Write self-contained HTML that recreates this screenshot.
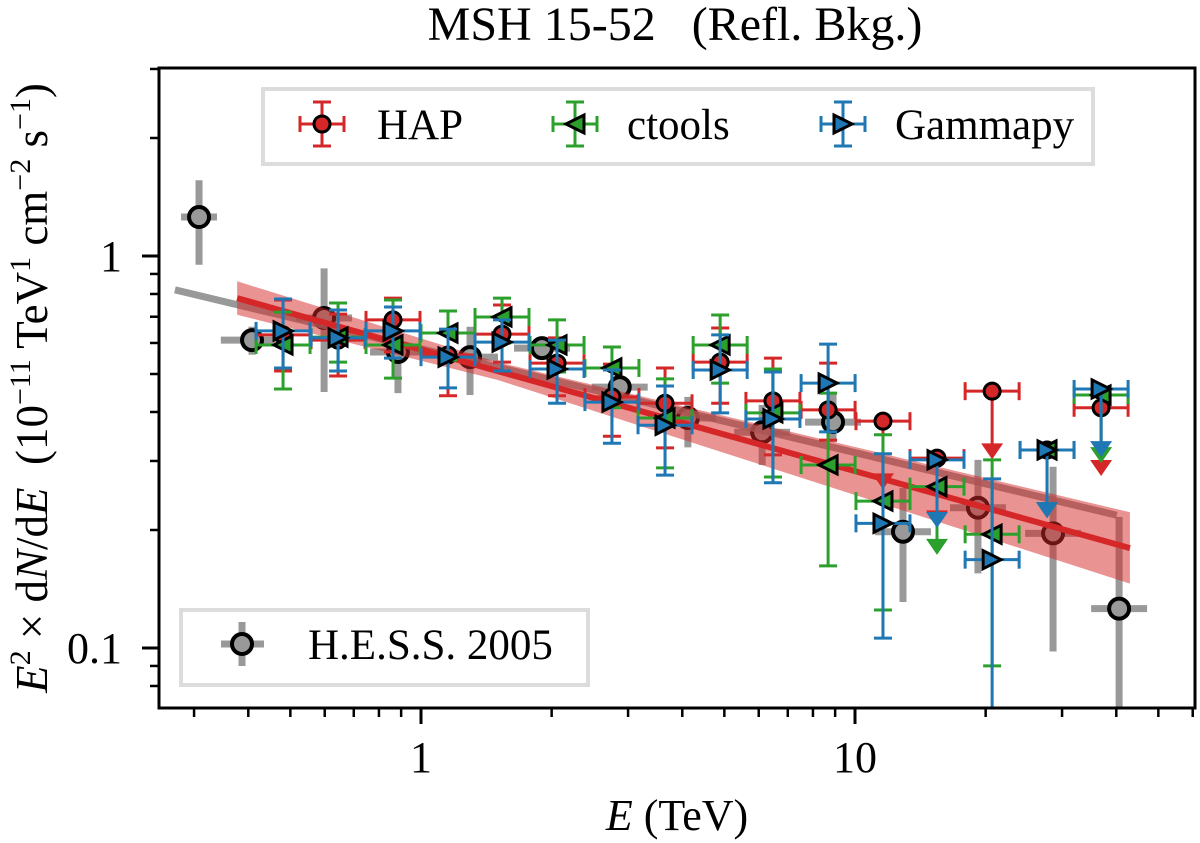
<!DOCTYPE html>
<html><head><meta charset="utf-8"><style>
html,body{margin:0;padding:0;background:#fff;}
svg{display:block;font-family:"Liberation Serif","DejaVu Serif",serif;}
</style></head><body>
<svg id="chart" width="1200" height="843" viewBox="0 0 1200 843" xmlns="http://www.w3.org/2000/svg">
<defs><clipPath id="plotclip"><rect x="159" y="68" width="1036" height="640"/></clipPath></defs>
<rect width="1200" height="843" fill="#fff"/>
<text x="675" y="40" font-size="48" text-anchor="middle" xml:space="preserve">MSH 15-52   (Refl. Bkg.)</text>
<text x="677" y="830" font-size="44" text-anchor="middle"><tspan font-style="italic">E</tspan> (TeV)</text>
<text transform="translate(47,388) rotate(-90)" font-size="45" text-anchor="middle" xml:space="preserve"><tspan font-style="italic">E</tspan><tspan font-size="30" dy="-17">2</tspan><tspan dy="17"> × d</tspan><tspan font-style="italic">N</tspan>/d<tspan font-style="italic">E</tspan>  (10<tspan font-size="30" dy="-17">−11</tspan><tspan dy="17"> TeV</tspan><tspan font-size="30" dy="-17">1</tspan><tspan dy="17"> cm</tspan><tspan font-size="30" dy="-17">−2</tspan><tspan dy="17"> s</tspan><tspan font-size="30" dy="-17">−1</tspan><tspan dy="17">)</tspan></text>
<g id="plot" clip-path="url(#plotclip)"></g>
<g id="axes"></g>
<g id="legends"></g>
</svg>
<script>
// ---- data ----
const binE=[0.481,0.644,0.862,1.154,1.537,2.058,2.754,3.65,4.89,6.47,8.67,11.6,15.45,20.7,27.7,36.9];
const binFactor=1.154;
const hapF=[0.629,0.610,0.687,0.559,0.632,0.533,0.437,0.421,0.536,0.427,0.405,0.379,0.305,0.452,0.320,0.410];
const hapLo=[0.509,0.494,0.569,0.440,0.536,0.44,0.347,0.324,0.421,0.311,0.339,null,null,null,null,null];
const hapHi=[0.772,0.711,0.781,0.648,0.750,0.618,0.530,0.518,0.655,0.549,0.533,null,null,null,null,null];
const hapUL=[0,0,0,0,0,0,0,0,0,0,0,1,1,1,1,1];
const ctF=[0.593,0.621,0.593,0.636,0.699,0.593,0.518,0.386,0.593,0.398,0.293,0.237,0.258,0.195,0.320,0.442];
const ctLo=[0.458,0.536,0.488,0.543,0.60,0.506,0.410,0.288,0.474,0.273,0.162,0.125,null,0.090,null,null];
const ctHi=[0.719,0.759,0.772,0.724,0.781,0.687,0.586,0.486,0.707,0.515,0.447,0.350,null,0.302,null,null];
const ctUL=[0,0,0,0,0,0,0,0,0,0,0,0,1,0,1,1];
const gpF=[0.644,0.618,0.644,0.552,0.603,0.515,0.424,0.370,0.512,0.384,0.474,0.208,0.302,0.168,0.320,0.458];
const gpLo=[0.518,0.509,0.549,0.461,0.509,0.421,0.333,0.276,0.398,0.264,0.356,0.106,null,0.05,null,null];
const gpHi=[0.777,0.728,0.741,0.651,0.687,0.610,0.512,0.466,0.629,0.506,0.596,0.313,null,0.270,null,null];
const gpUL=[0,0,0,0,0,0,0,0,0,0,0,0,1,0,1,1];
const hessE=[0.308,0.408,0.598,0.885,1.297,1.90,2.87,4.12,6.11,8.90,12.9,19.2,28.6,40.6];
const hessF=[1.257,0.610,0.695,0.569,0.552,0.582,0.463,0.386,0.355,0.377,0.198,0.228,0.196,0.126];
const hessLo=[0.95,0.56,0.45,0.447,0.442,0.55,0.44,0.325,0.293,0.335,0.131,0.155,0.098,0.05];
const hessHi=[1.56,0.66,0.93,0.65,0.66,0.61,0.49,0.437,0.417,0.447,0.256,0.302,0.290,0.216];
const hessEFactor=[1.10,1.18,1.16,1.16,1.16,1.16,1.16,1.16,1.16,1.16,1.16,1.16,1.16,1.16];
const hapFitAmp=0.577, hapFitSlope=-0.31, hapFitRange=[0.377,43];
const hessFitAmp=0.580, hessFitSlope=-0.265, hessFitRange=[0.271,40.1];
const bandE=[0.377,1.5,43];
const bandHi=[0.862,0.536,0.222];
const bandLo=[0.708,0.483,0.146];
const xMajor=[1,10], xMajorLabels=["1","10"];
const xMinor=[0.3,0.4,0.5,0.6,0.7,0.8,0.9,2,3,4,5,6,7,8,9,20,30,40,50,60];
const yMajor=[0.1,1], yMajorLabels=["0.1","1"];
const yMinor=[0.08,0.09,0.2,0.3,0.4,0.5,0.6,0.7,0.8,0.9,2,3];
const ulFactor=0.67;

// ---- scales ----
const X=e=>421+434*Math.log10(e);
const Y=f=>256-392*Math.log10(f);
const NS="http://www.w3.org/2000/svg";
function mk(tag,attrs,parent){const el=document.createElementNS(NS,tag);for(const k in attrs)el.setAttribute(k,attrs[k]);parent.appendChild(el);return el;}
const plot=document.getElementById('plot'), axes=document.getElementById('axes'), leg=document.getElementById('legends');
const RED='#d62728',GREEN='#2ca02c',BLUE='#1f77b4';

// HESS points
hessE.forEach((e,i)=>{
  const g=mk('g',{},plot);
  
  
  mk('line',{x1:X(e/hessEFactor[i]),x2:X(e*hessEFactor[i]),y1:Y(hessF[i]),y2:Y(hessF[i]),stroke:'#808080','stroke-opacity':0.8,'stroke-width':7},g);
  mk('line',{x1:X(e),x2:X(e),y1:Y(hessLo[i]),y2:Y(hessHi[i]),stroke:'#808080','stroke-opacity':0.8,'stroke-width':7},g);
  mk('circle',{cx:X(e),cy:Y(hessF[i]),r:10,fill:'#999','stroke':'#000','stroke-width':4},g);
});
// HESS fit line
(function(){
  const f=e=>hessFitAmp*Math.pow(e,hessFitSlope);
  const l=mk('line',{x1:X(hessFitRange[0]),y1:Y(f(hessFitRange[0])),x2:X(hessFitRange[1]),y2:Y(f(hessFitRange[1])),stroke:'#808080','stroke-opacity':0.8,'stroke-width':7},plot);
  
  
})();
// band
(function(){
  let pts=bandE.map((e,i)=>X(e)+','+Y(bandHi[i]));
  pts=pts.concat(bandE.map((e,i)=>X(e)+','+Y(bandLo[i])).reverse());
  const p=mk('polygon',{points:pts.join(' '),fill:RED,'fill-opacity':0.5},plot);
  
  
  const f=e=>hapFitAmp*Math.pow(e,hapFitSlope);
  const l=mk('line',{x1:X(hapFitRange[0]),y1:Y(f(hapFitRange[0])),x2:X(hapFitRange[1]),y2:Y(f(hapFitRange[1])),stroke:RED,'stroke-width':6},plot);
  
  
})();

function marker(kind,cx,cy,color,parent){
  if(kind==='circle') return mk('circle',{cx:cx,cy:cy,r:8,fill:color,stroke:'#000','stroke-width':3},parent);
  const s=9;
  const pts=kind==='left'?[[cx-s,cy],[cx+s,cy-s],[cx+s,cy+s]]:[[cx+s,cy],[cx-s,cy-s],[cx-s,cy+s]];
  return mk('polygon',{points:pts.map(p=>p.join(',')).join(' '),fill:color,stroke:'#000','stroke-width':3,'stroke-linejoin':'miter'},parent);
}
function series(name,F,Lo,Hi,UL,color,kind){
  binE.forEach((e,i)=>{
    const g=mk('g',{},plot);
    
    
    const cx=X(e),cy=Y(F[i]),x0=X(e/binFactor),x1=X(e*binFactor);
    mk('line',{x1:x0,x2:x1,y1:cy,y2:cy,stroke:color,'stroke-width':3},g);
    mk('line',{x1:x0,x2:x0,y1:cy-9,y2:cy+9,stroke:color,'stroke-width':3},g);
    mk('line',{x1:x1,x2:x1,y1:cy-9,y2:cy+9,stroke:color,'stroke-width':3},g);
    if(UL[i]){
      const yb=Y(F[i]*ulFactor);
      mk('line',{x1:cx,x2:cx,y1:cy,y2:yb-14,stroke:color,'stroke-width':3},g);
      mk('polygon',{points:(cx-11)+','+(yb-16)+' '+(cx+11)+','+(yb-16)+' '+cx+','+yb,fill:color},g);
    } else {
      const ylo=Y(Lo[i]),yhi=Y(Hi[i]);
      mk('line',{x1:cx,x2:cx,y1:ylo,y2:yhi,stroke:color,'stroke-width':3},g);
      mk('line',{x1:cx-9,x2:cx+9,y1:ylo,y2:ylo,stroke:color,'stroke-width':3},g);
      mk('line',{x1:cx-9,x2:cx+9,y1:yhi,y2:yhi,stroke:color,'stroke-width':3},g);
    }
    marker(kind,cx,cy,color,g);
  });
}
series('hap',hapF,hapLo,hapHi,hapUL,RED,'circle');
series('ctools',ctF,ctLo,ctHi,ctUL,GREEN,'left');
series('gammapy',gpF,gpLo,gpHi,gpUL,BLUE,'right');

// axes frame
const frame=mk('rect',{x:159,y:68,width:1036,height:640,fill:'none',stroke:'#000','stroke-width':3},axes);


xMajor.forEach((v,i)=>{
  const t=mk('line',{x1:X(v),x2:X(v),y1:708,y2:724,stroke:'#000','stroke-width':3},axes);
  
  
  const tx=mk('text',{x:X(v),y:772,'font-size':44,'text-anchor':'middle'},axes);
  tx.textContent=xMajorLabels[i];
  
  
});
xMinor.forEach(v=>{const x=X(v); if(x<159||x>1196)return;
  const t=mk('line',{x1:x,x2:x,y1:708,y2:717,stroke:'#000','stroke-width':2.5},axes);
  
  
});
yMajor.forEach((v,i)=>{
  const t=mk('line',{x1:142,x2:159,y1:Y(v),y2:Y(v),stroke:'#000','stroke-width':3},axes);
  
  
  const tx=mk('text',{x:122,y:Y(v)+15,'font-size':44,'text-anchor':'end'},axes);
  tx.textContent=yMajorLabels[i];
  
  
});
yMinor.forEach(v=>{const y=Y(v); if(y<67||y>709)return;
  const t=mk('line',{x1:150,x2:159,y1:y,y2:y,stroke:'#000','stroke-width':2.5},axes);
  
  
});

// legends
function legMarker(cx,cy,color,kind,parent){
  mk('line',{x1:cx-22,x2:cx+22,y1:cy,y2:cy,stroke:color,'stroke-width':3},parent);
  mk('line',{x1:cx,x2:cx,y1:cy-22,y2:cy+22,stroke:color,'stroke-width':3},parent);
  [[cx-22,cx-22,cy-8,cy+8],[cx+22,cx+22,cy-8,cy+8],[cx-9,cx+9,cy-22,cy-22],[cx-9,cx+9,cy+22,cy+22]].forEach(c=>mk('line',{x1:c[0],x2:c[1],y1:c[2],y2:c[3],stroke:color,'stroke-width':3},parent));
  marker(kind,cx,cy,color,parent);
}
const lb=mk('rect',{x:263,y:89,width:830,height:75,fill:'#fff','fill-opacity':0.8,stroke:'#dcdcdc','stroke-width':4},leg);


[['HAP',322,377,RED,'circle'],['ctools',575,627,GREEN,'left'],['Gammapy',843,895,BLUE,'right']].forEach(it=>{
  const g=mk('g',{},leg);
  
  
  legMarker(it[1],124,it[3],it[4],g);
  const t=mk('text',{x:it[2],y:139,'font-size':43},g);
  t.textContent=it[0];
});
const lb2=mk('rect',{x:181,y:610,width:407,height:75,fill:'#fff','fill-opacity':0.8,stroke:'#dcdcdc','stroke-width':4},leg);


(function(){
  const g=mk('g',{},leg);
  
  
  mk('line',{x1:221,x2:264,y1:644,y2:644,stroke:'#808080','stroke-opacity':0.8,'stroke-width':7},g);
  mk('line',{x1:242,x2:242,y1:622,y2:666,stroke:'#808080','stroke-opacity':0.8,'stroke-width':7},g);
  mk('circle',{cx:242,cy:644,r:10,fill:'#999',stroke:'#000','stroke-width':4},g);
  const t=mk('text',{x:308,y:659,'font-size':43},g);
  t.textContent='H.E.S.S. 2005';
})();
</script>
</body></html>
